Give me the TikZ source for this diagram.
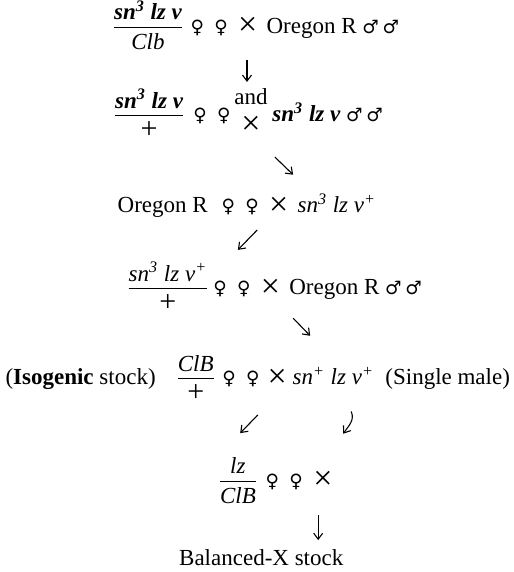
\documentclass[tikz,border=0pt]{standalone}
\usepackage{fontspec}
\setmainfont{Liberation Serif}
\newfontfamily\symfnt[Scale=0.8]{DejaVu Sans}
\usetikzlibrary{arrows.meta}
\newcommand{\fem}{{\symfnt ♀}}
\newcommand{\mal}{{\symfnt ♂}}
\newcommand{\fems}{\fem\hspace{0.45em}\fem}
\newcommand{\crs}{\raisebox{-1.2pt}{\fontsize{17}{17}\selectfont ×}}
\newcommand{\wt}{{\fontsize{15}{15}\selectfont +}}
\newcommand{\gfrac}[2]{$\displaystyle\frac{\mbox{\raisebox{-1.5pt}{#1}}}{\mbox{#2}}$}
\begin{document}
\begin{tikzpicture}[every node/.style={font=\fontsize{11.5}{13}\selectfont,inner sep=0pt},
  row/.style={anchor=base west},
  frac/.style={anchor=base},
  flow/.style={-{Straight Barb[length=3pt,width=4.5pt]},line width=0.55pt}]
\useasboundingbox (0,0) rectangle (9.03,10.05);
% first cross
\node[frac] (f1) at (2.60,9.47) {\gfrac{\bfseries\itshape sn\textsuperscript{3} lz v}{\itshape Clb}};
\node[row] (t1) at (3.34,9.47) {\fems\hspace{0.45em}\crs\hspace{0.4em}Oregon R \mal\,\mal};
\coordinate (a1s) at (4.34,9.00); \coordinate (a1e) at (4.34,8.61);
\draw[flow] (a1s) -- (a1e);
% F1
\node[frac] (f2) at (2.62,7.91) {\gfrac{\bfseries\itshape sn\textsuperscript{3} lz v}{\wt}};
\node[row] (fem2) at (3.39,7.91) {\fems};
\node[anchor=base] (and2) at (4.41,8.22) {and};
\node (x2) at (4.41,7.84) {\crs};
\node[row] (m2) at (4.78,7.91) {{\bfseries\itshape sn\textsuperscript{3} lz v}\ \mal\,\mal};
\coordinate (a2s) at (4.83,7.29); \coordinate (a2e) at (5.15,6.98);
\draw[flow] (a2s) -- (a2e);
% backcross
\node[row] (t3) at (2.06,6.31) {Oregon R\hspace{0.6em}\fems\hspace{0.45em}\crs\hspace{0.4em}\textit{sn\textsuperscript{3} lz v\textsuperscript{+}}};
\coordinate (a3s) at (4.52,6.01); \coordinate (a3e) at (4.18,5.66);
\draw[flow] (a3s) -- (a3e);
\node[frac] (f4) at (2.95,4.87) {\gfrac{\itshape sn\textsuperscript{3} lz v\textsuperscript{+}}{\wt}};
\node[row] (t4) at (3.74,4.87) {\fems\hspace{0.45em}\crs\hspace{0.4em}Oregon R \mal\,\mal};
\coordinate (a4s) at (5.15,4.46); \coordinate (a4e) at (5.45,4.15);
\draw[flow] (a4s) -- (a4e);
% ClB cross
\node[row] (iso) at (0.09,3.29) {(\textbf{Isogenic} stock)};
\node[frac] (f5) at (3.44,3.29) {\gfrac{\itshape ClB}{\wt}};
\node[row] (t5) at (3.90,3.29) {\fems\hspace{0.35em}\crs\hspace{0.25em}\textit{sn\textsuperscript{+} lz v\textsuperscript{+}}\ \ (Single male)};
\coordinate (a5s) at (4.53,2.76); \coordinate (a5e) at (4.22,2.44);
\draw[flow] (a5s) -- (a5e);
\coordinate (a6s) at (6.17,2.82); \coordinate (a6e) at (6.03,2.43);
\draw[flow] (a6s) to[out=-65,in=55] (a6e);
% balanced stock
\node[frac] (f6) at (4.18,1.49) {\gfrac{\itshape lz}{\itshape ClB}};
\node[row] (t6) at (4.66,1.49) {\fems\hspace{0.45em}\crs};
\coordinate (a7s) at (5.59,1.00); \coordinate (a7e) at (5.59,0.56);
\draw[flow] (a7s) -- (a7e);
\node[anchor=base] (bal) at (4.59,0.11) {Balanced-X stock};
\end{tikzpicture}
\end{document}
